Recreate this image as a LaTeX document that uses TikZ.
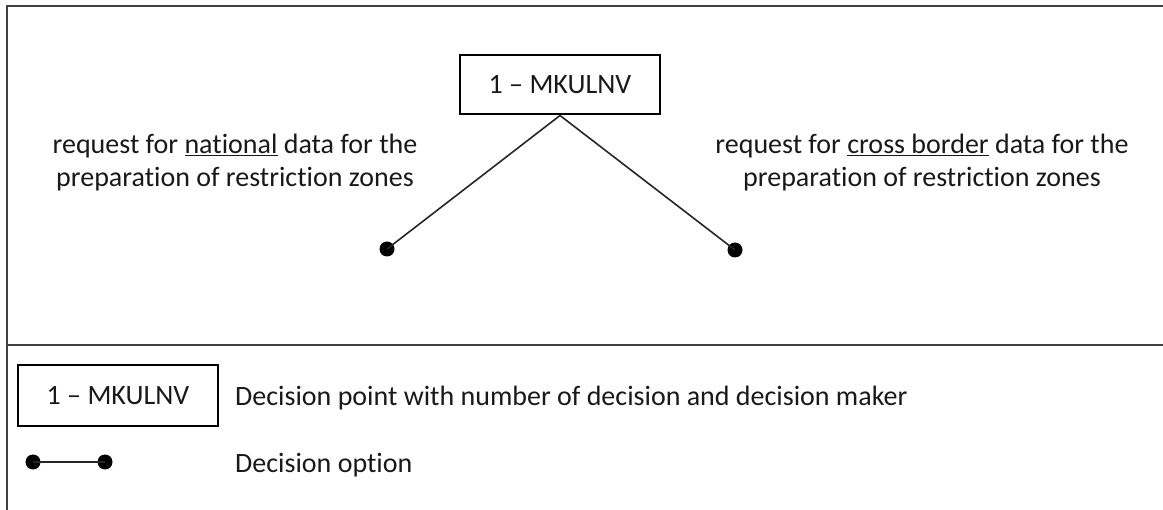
\documentclass[tikz,border=0pt]{standalone}
\usepackage{fontspec}
\setmainfont{Carlito}[Ligatures={NoCommon}]
\begin{document}
\begin{tikzpicture}[x=1pt,y=-1pt,
  txt/.style={font=\fontsize{28}{33}\selectfont, inner sep=0pt, text=black!90},
  decbox/.style={draw, line width=2pt, minimum width=200pt, minimum height=59pt, inner sep=0pt,
    font=\fontsize{28}{33}\selectfont, text=black!90},
  optdot/.style={circle, fill=black, minimum size=15pt, inner sep=0pt},
  conn/.style={line width=1.6pt, black!85},
  frame/.style={line width=1.5pt, black!75}]
\useasboundingbox (0,0) rectangle (1163,510);
% outer frame and the divider above the legend
\coordinate (fTL) at (7,6);
\coordinate (fTR) at (1163,6);
\coordinate (fBL) at (7,510);
\coordinate (dL) at (7,345);
\coordinate (dR) at (1163,345);
\draw[frame] (fBL) -- (fTL) -- (fTR);
\draw[frame] (dL) -- (dR);

% decision point and its two options
\node[decbox] (dp) at (560,85) {1 – MKULNV};
\node[optdot] (optA) at (387,249) {};
\node[optdot] (optB) at (735,250) {};
\draw[conn] (dp.south) -- (optA.center);
\draw[conn] (dp.south) -- (optB.center);

\node[txt, align=center] (labA) at (235,163)
  {request for \underline{national} data for the\\preparation of restriction zones};
\node[txt, align=center] (labB) at (922,163)
  {request for \underline{cross border} data for the\\preparation of restriction zones};

% legend
\node[decbox, minimum height=61pt] (lgBox) at (118,395.5) {1 – MKULNV};
\node[txt, anchor=base west] (lgBoxT) at (235,406) {Decision point with number of decision and decision maker};
\node[optdot] (lgA) at (33,462) {};
\node[optdot] (lgB) at (105,462) {};
\draw[conn] (lgA.center) -- (lgB.center);
\node[txt, anchor=base west] (lgOptT) at (235,473) {Decision option};
\end{tikzpicture}
\end{document}
